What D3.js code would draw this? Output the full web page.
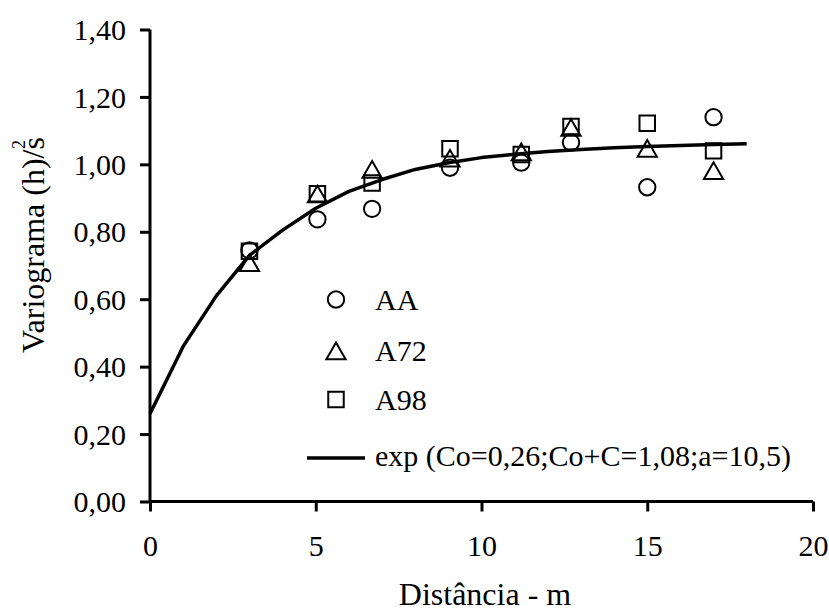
<!DOCTYPE html>
<html>
  <head>
    <meta charset="utf-8">
    <script src="https://d3js.org/d3.v7.min.js"></script>
    <style>
        body { margin: 0; background: #ffffff; }
        text { font-family: "Liberation Serif", "Times New Roman", serif; fill: #000000; }
    </style>
  </head>
  <body>
    <div id="chartcontainer"></div>
    <script type="text/javascript">

      // distances (m) where the semivariances were computed
      var distances = [3.0, 5.05, 6.7, 9.05, 11.2, 12.7, 15.0, 17.0];

      // scaled semivariance per series
      var serieAA  = [0.745, 0.837, 0.868, 0.990, 1.005, 1.065, 0.932, 1.140];
      var serieA72 = [0.708, 0.912, 0.985, 1.018, 1.037, 1.109, 1.047, 0.981];
      var serieA98 = [0.742, 0.913, 0.945, 1.046, 1.029, 1.112, 1.122, 1.040];

      // fitted model at each metre
      var modelX = [0, 1, 2, 3, 4, 5, 6, 7, 8, 9, 10, 11, 12, 13, 14, 15, 16, 17, 18];
      var modelY = [0.26, 0.46, 0.61, 0.73, 0.805, 0.87, 0.92, 0.955, 0.985, 1.005,
                    1.02, 1.03, 1.038, 1.044, 1.049, 1.053, 1.056, 1.059, 1.061];

      var xTicks = [0, 5, 10, 15, 20];
      var yTicks = [0, 0.2, 0.4, 0.6, 0.8, 1.0, 1.2, 1.4];

      var seriesNames = ["AA", "A72", "A98"];
      var modelLabel = "exp (Co=0,26;Co+C=1,08;a=10,5)";

      var width = 829, height = 615;
      var svg = d3.select("#chartcontainer").append("svg")
          .attr("width", width)
          .attr("height", height);

      var x = d3.scaleLinear().domain([0, 20]).range([150, 813]);
      var y = d3.scaleLinear().domain([0, 1.4]).range([501.5, 29.5]);

      var fmt = function(d) { return d3.format(".2f")(d).replace(".", ","); };

      // y axis
      var yAxis = svg.append("g")
          .attr("transform", "translate(" + x(0) + ",0)")
          .call(d3.axisLeft(y).tickValues(yTicks).tickFormat(fmt).tickSize(10).tickPadding(14));
      yAxis.select(".domain").attr("stroke-width", 3).attr("d", "M0," + y(0) + "V" + y(1.4));
      yAxis.selectAll(".tick line").attr("stroke-width", 3);
      yAxis.selectAll("text").style("font-size", "30px").attr("dy", "0.34em");

      // x axis
      var xAxis = svg.append("g")
          .attr("transform", "translate(0," + y(0) + ")")
          .call(d3.axisBottom(x).tickValues(xTicks).tickSize(10).tickPadding(23));
      xAxis.select(".domain").attr("stroke-width", 3).attr("d", "M" + x(0) + ",0H" + x(20));
      xAxis.selectAll(".tick line").attr("stroke-width", 3);
      xAxis.selectAll("text").style("font-size", "30px");

      // axis titles
      svg.append("text")
          .attr("x", 485)
          .attr("y", 605)
          .attr("text-anchor", "middle")
          .style("font-size", "32px")
          .text("Distância - m");

      var yTitle = svg.append("text")
          .attr("transform", "translate(44,353) rotate(-90)")
          .attr("text-anchor", "start")
          .style("font-size", "32px");
      yTitle.append("tspan").text("Variograma (h)/s");
      yTitle.append("tspan").attr("dx", "-12").attr("dy", "-19").style("font-size", "18px").text("2");

      // model line
      var line = d3.line()
          .x(function(d, i) { return x(modelX[i]); })
          .y(function(d) { return y(d); });
      svg.append("path")
          .datum(modelY)
          .attr("d", line)
          .attr("fill", "none")
          .attr("stroke", "#000")
          .attr("stroke-width", 3.5)
          .attr("stroke-linejoin", "round");

      // marker shapes
      var symbols = [d3.symbolCircle, d3.symbolTriangle, d3.symbolSquare];
      var sizes = [210, 160, 240];
      var seriesData = [serieAA, serieA72, serieA98];

      function drawMarker(g, k, cx, cy) {
        var off = k == 1 ? 2.7 : 0;
        g.append("path")
            .attr("d", d3.symbol().type(symbols[k]).size(sizes[k])())
            .attr("transform", "translate(" + cx + "," + (cy + off) + ")")
            .attr("fill", "none")
            .attr("stroke", "#000")
            .attr("stroke-width", 2);
      }

      var points = svg.append("g");
      seriesData.forEach(function(vals, k) {
        vals.forEach(function(v, i) {
          drawMarker(points, k, x(distances[i]), y(v));
        });
      });

      // legend
      var legend = svg.append("g");
      var legendY = [299.5, 351, 399.5];
      seriesNames.forEach(function(name, k) {
        drawMarker(legend, k, 336, legendY[k]);
        legend.append("text")
            .attr("x", 375)
            .attr("y", legendY[k] + 10)
            .style("font-size", "30px")
            .text(name);
      });
      legend.append("line")
          .attr("x1", 307).attr("x2", 365)
          .attr("y1", 458).attr("y2", 458)
          .attr("stroke", "#000")
          .attr("stroke-width", 3.5);
      legend.append("text")
          .attr("x", 375)
          .attr("y", 466)
          .style("font-size", "30px")
          .text(modelLabel);

    </script>
  </body>
</html>
